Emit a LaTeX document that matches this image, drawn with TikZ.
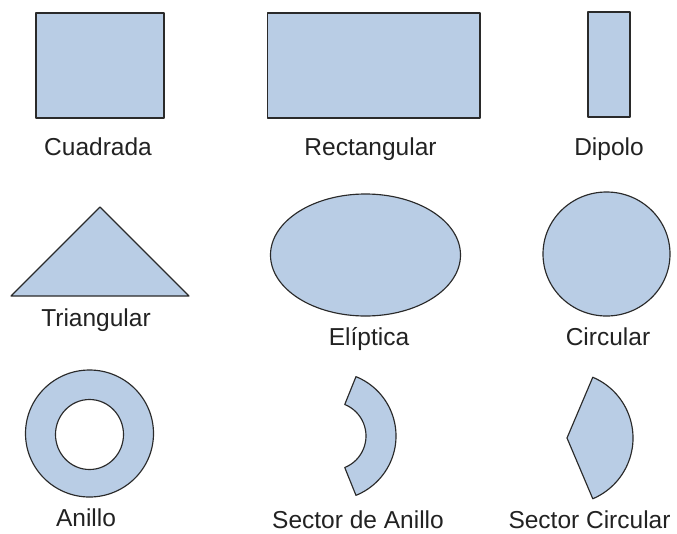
\documentclass[tikz,border=0pt]{standalone}
\usepackage{fontspec}
\setmainfont{Liberation Sans}
\definecolor{shapefill}{HTML}{B9CDE5}
\definecolor{shapeline}{HTML}{2A2A2A}
\definecolor{labeltext}{HTML}{222222}
\tikzset{
  antshape/.style={draw=shapeline, fill=shapefill, line width=1.15pt, line join=round},
  lbl/.style={anchor=base, inner sep=0pt, text=labeltext, font=\fontsize{24.5}{29}\selectfont}
}
\begin{document}
\begin{tikzpicture}[x=1pt, y=1pt, yscale=-1]
\useasboundingbox[fill=white] (0,0) rectangle (677,533);
% row 1
\path[antshape] (36,13) rectangle (164,118);
\path[antshape] (267.5,13) rectangle (480,118);
\path[antshape] (588,12) rectangle (630,117);
\node[lbl] (lcuad) at (98,155) {Cuadrada};
\node[lbl] (lrect) at (370.5,155) {Rectangular};
\node[lbl] (ldip) at (609,155) {Dipolo};
% row 2
\path[antshape] (11,296) -- (100,207) -- (189,296) -- cycle;
\path[antshape] (365.5,255) ellipse [x radius=95, y radius=61];
\path[antshape] (606.5,254) ellipse [x radius=63.5, y radius=62];
\node[lbl] (ltri) at (96,326) {Triangular};
\node[lbl] (lell) at (369,345) {Elíptica};
\node[lbl] (lcirc) at (608,345) {Circular};
% row 3
\path[antshape, even odd rule] (89.5,433.5) ellipse [x radius=64, y radius=63.5]
  (89.5,434.5) ellipse [x radius=34, y radius=35];
\begin{scope}[shift={(332,436)}]
  \path[antshape] (-68:64) arc [start angle=-68, end angle=68, radius=64]
    -- (68:34) arc [start angle=68, end angle=-68, radius=34] -- cycle;
\end{scope}
\begin{scope}[shift={(567,438)}]
  \path[antshape] (0,0) -- (-67:66) arc [start angle=-67, end angle=67, radius=66] -- cycle;
\end{scope}
\node[lbl] (lani) at (86,526) {Anillo};
\node[lbl] (lsan) at (358,528.5) {Sector de Anillo};
\node[lbl] (lscir) at (589.5,528.5) {Sector Circular};
\end{tikzpicture}
\end{document}
